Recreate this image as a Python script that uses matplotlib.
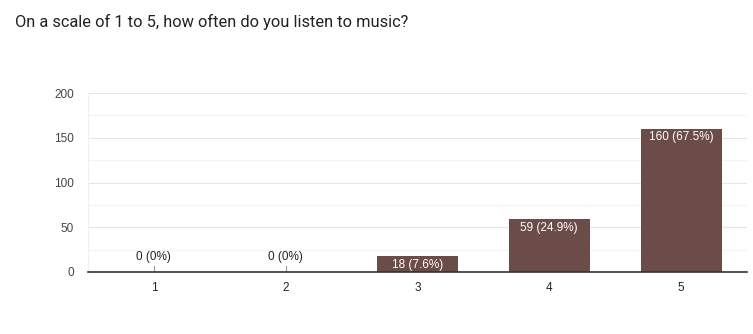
import matplotlib
matplotlib.use("Agg")
import matplotlib.pyplot as plt
from matplotlib.ticker import MultipleLocator

categories = ["1", "2", "3", "4", "5"]
counts = [0, 0, 18, 59, 160]
percents = ["0%", "0%", "7.6%", "24.9%", "67.5%"]
title = "On a scale of 1 to 5, how often do you listen to music?"

plt.rcParams['font.family'] = ['Roboto', 'DejaVu Sans']
chart_font = ['Liberation Sans', 'DejaVu Sans']

fig = plt.figure(figsize=(7.53, 3.34), dpi=100)
ax = fig.add_axes([88/753, 1-272/334, (747-88)/753, (272-93)/334])

bar_color = "#6b4c48"
x = list(range(len(categories)))
ax.bar(x, counts, width=0.615, color=bar_color, zorder=3)

ax.set_xlim(-0.5, len(categories) - 0.5)
ax.set_ylim(0, 200)
ax.yaxis.set_major_locator(MultipleLocator(50))
ax.yaxis.set_minor_locator(MultipleLocator(25))
ax.grid(axis='y', which='major', color='#e6e6e6', linewidth=0.8, zorder=0)
ax.grid(axis='y', which='minor', color='#f3f3f3', linewidth=0.8, zorder=0)

for s in ['top', 'right']:
    ax.spines[s].set_visible(False)
ax.spines['left'].set_color('#f0f0f0')
ax.spines['bottom'].set_color('#333333')
ax.spines['bottom'].set_linewidth(1.2)
ax.spines['bottom'].set_zorder(4)

ax.set_xticks(x)
ax.set_xticklabels(categories)
ax.tick_params(axis='both', which='both', length=0, labelsize=8.5, colors='#222222')
ax.tick_params(axis='x', pad=7)
ax.tick_params(axis='y', pad=10)
for lbl in ax.get_yticklabels() + ax.get_xticklabels():
    lbl.set_fontfamily(chart_font)
for lbl in ax.get_yticklabels():
    lbl.set_color('#444444')

for xi, c, p in zip(x, counts, percents):
    label = f"{c} ({p})"
    if c == 0:
        ax.plot([xi, xi], [0, 7], color='#999999', linewidth=0.8, zorder=3)
        ax.text(xi, 10, label, ha='center', va='bottom', fontsize=8.5,
                color='#222222', family=chart_font)
    else:
        ax.text(xi, c - 3, label, ha='center', va='top', fontsize=8.5,
                color='white', zorder=5, family=chart_font)

fig.text(15/753, 1-22/334, title, ha='left', va='center', fontsize=11.8, color='#202124')

fig.savefig("out.png", dpi=100)
